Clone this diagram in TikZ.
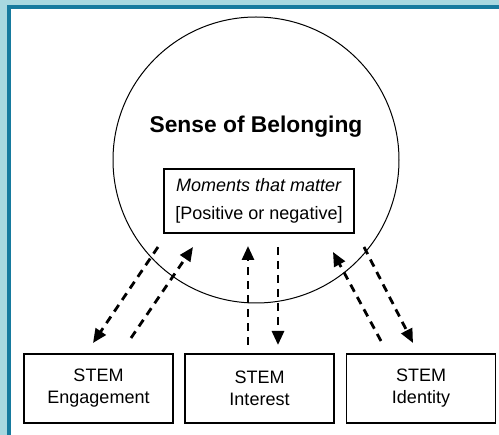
\documentclass[tikz,border=0pt]{standalone}
\usepackage{fontspec}
\setmainfont{Liberation Sans}
\usetikzlibrary{arrows.meta}
\definecolor{frameblue}{RGB}{168,216,224}
\definecolor{framedark}{RGB}{22,122,158}
\tikzset{
    box/.style={draw,rectangle,line width=1.8pt,align=center,inner sep=0pt},
    flow/.style={line width=2.8pt,dash pattern=on 8pt off 6pt,-{Triangle[length=14pt,width=12pt]}}
}
\begin{document}
\begin{tikzpicture}[x=1pt,y=-1pt]
        \useasboundingbox(0,0)rectangle(499,435);
        \fill[frameblue](0,0)rectangle(499,435);
        \draw[framedark,line width=4pt,fill=white](9,7)rectangle(540,480);
        \node [draw,circle,line width=1pt,minimum size=286pt,inner sep=0pt](s)at(256,160){};
        \node [font=\fontsize{22.8}{27}\selectfont\bfseries](t)at(256,127){Sense of Belonging};
        \node [box,minimum width=190pt,minimum height=64pt,font=\fontsize{18}{28}\selectfont](m)at(259,201){\textit{Moments that matter}\\{[}Positive or negative{]}};
        \node [box,minimum width=149pt,minimum height=69pt,font=\fontsize{18}{22}\selectfont](e)at(98.5,388.5){STEM\\Engagement};
        \node [box,minimum width=149pt,minimum height=69pt,font=\fontsize{18}{22}\selectfont](i)at(259.5,388.5){STEM\\Interest};
        \node [box,minimum width=149pt,minimum height=69pt,font=\fontsize{18}{22}\selectfont](d)at(421,388.5){STEM\\Identity};
        \coordinate(e1)at(158,247);
        \coordinate(e2)at(93,343);
        \coordinate(e3)at(131,338);
        \coordinate(e4)at(193,247);
        \coordinate(i1)at(248,345);
        \coordinate(i2)at(248,246);
        \coordinate(i3)at(278,247);
        \coordinate(i4)at(278,345);
        \coordinate(d1)at(381,341);
        \coordinate(d2)at(333,252);
        \coordinate(d3)at(364,247);
        \coordinate(d4)at(413,343);
        \draw[flow](e1)--(e2);
        \draw[flow](e3)--(e4);
        \draw[flow](i1)--(i2);
        \draw[flow](i3)--(i4);
        \draw[flow](d1)--(d2);
        \draw[flow](d3)--(d4);
\end{tikzpicture}
\end{document}
